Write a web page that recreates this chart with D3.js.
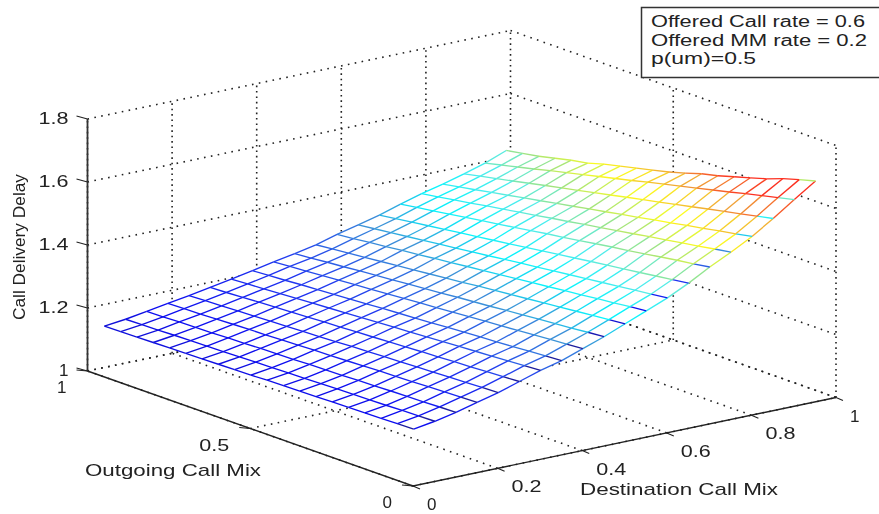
<!DOCTYPE html>
<html>
<head>
<meta charset="utf-8">
<script src="https://cdn.jsdelivr.net/npm/d3@7"></script>
<style>
  html, body { margin: 0; background: #fff; }
  svg { display: block; filter: blur(0.35px); }
  text { font-family: "Liberation Sans", Arial, sans-serif; fill: #222; }
</style>
</head>
<body>
<div id="chart"></div>
<script>
const destMix = [0.04, 0.09, 0.14, 0.19, 0.24, 0.29, 0.34, 0.39, 0.44, 0.49, 0.54, 0.59, 0.64, 0.69, 0.74, 0.79, 0.84, 0.89, 0.94, 0.99];
const outMix = [0.05, 0.1, 0.15, 0.2, 0.25, 0.3, 0.35, 0.4, 0.45, 0.5, 0.55, 0.6, 0.65, 0.7, 0.75, 0.8, 0.85, 0.9, 0.95, 1];

// delay[i][j] : destMix[i], outMix[j]
const delay = [
  [1.151,1.150,1.149,1.148,1.147,1.146,1.145,1.144,1.143,1.142,1.140,1.139,1.138,1.137,1.136,1.135,1.134,1.133,1.132,1.131],
  [1.162,1.161,1.160,1.158,1.157,1.156,1.155,1.154,1.152,1.151,1.150,1.149,1.147,1.146,1.145,1.144,1.143,1.141,1.140,1.139],
  [1.176,1.175,1.173,1.172,1.171,1.169,1.168,1.166,1.165,1.164,1.162,1.161,1.160,1.158,1.157,1.155,1.154,1.153,1.151,1.150],
  [1.194,1.192,1.191,1.189,1.187,1.185,1.184,1.182,1.180,1.178,1.177,1.175,1.173,1.171,1.170,1.168,1.166,1.164,1.163,1.161],
  [1.211,1.209,1.207,1.205,1.203,1.201,1.199,1.197,1.195,1.193,1.190,1.188,1.186,1.184,1.182,1.180,1.178,1.176,1.174,1.172],
  [1.232,1.229,1.227,1.224,1.222,1.219,1.217,1.214,1.212,1.209,1.207,1.204,1.202,1.199,1.197,1.194,1.192,1.189,1.186,1.184],
  [1.253,1.250,1.247,1.244,1.241,1.238,1.235,1.232,1.229,1.226,1.223,1.220,1.217,1.214,1.211,1.208,1.205,1.202,1.199,1.196],
  [1.270,1.267,1.264,1.260,1.257,1.254,1.251,1.248,1.244,1.241,1.238,1.235,1.231,1.228,1.225,1.222,1.219,1.215,1.212,1.209],
  [1.294,1.290,1.287,1.283,1.279,1.275,1.272,1.268,1.264,1.260,1.257,1.253,1.249,1.245,1.242,1.238,1.234,1.230,1.227,1.223],
  [1.318,1.314,1.309,1.305,1.301,1.296,1.292,1.287,1.283,1.279,1.274,1.270,1.266,1.261,1.257,1.253,1.248,1.244,1.239,1.235],
  [1.345,1.340,1.335,1.330,1.325,1.320,1.315,1.310,1.305,1.300,1.294,1.289,1.284,1.279,1.274,1.269,1.264,1.259,1.254,1.249],
  [1.372,1.367,1.361,1.356,1.350,1.345,1.339,1.334,1.328,1.323,1.317,1.312,1.306,1.301,1.295,1.290,1.284,1.279,1.273,1.268],
  [1.399,1.393,1.387,1.381,1.375,1.369,1.363,1.357,1.351,1.345,1.339,1.332,1.326,1.320,1.314,1.308,1.302,1.296,1.290,1.284],
  [1.432,1.425,1.418,1.411,1.404,1.398,1.391,1.384,1.377,1.370,1.363,1.356,1.349,1.342,1.336,1.329,1.322,1.315,1.308,1.301],
  [1.469,1.461,1.454,1.446,1.438,1.430,1.423,1.415,1.407,1.399,1.392,1.384,1.376,1.368,1.361,1.353,1.345,1.337,1.330,1.322],
  [1.502,1.494,1.485,1.477,1.468,1.460,1.451,1.443,1.434,1.426,1.417,1.409,1.400,1.392,1.383,1.375,1.366,1.358,1.349,1.341],
  [1.538,1.528,1.519,1.509,1.500,1.490,1.481,1.471,1.462,1.452,1.443,1.433,1.424,1.414,1.405,1.395,1.386,1.376,1.367,1.357],
  [1.581,1.570,1.559,1.549,1.538,1.527,1.516,1.505,1.495,1.484,1.473,1.462,1.451,1.441,1.430,1.419,1.408,1.397,1.387,1.376],
  [1.627,1.615,1.603,1.591,1.578,1.566,1.554,1.542,1.530,1.518,1.505,1.493,1.481,1.469,1.457,1.445,1.432,1.420,1.408,1.396],
  [1.672,1.658,1.643,1.624,1.609,1.594,1.579,1.567,1.551,1.536,1.524,1.512,1.500,1.488,1.473,1.464,1.452,1.440,1.431,1.422]
];

const zTicks = [1, 1.2, 1.4, 1.6, 1.8];
const destTicks = [0, 0.2, 0.4, 0.6, 0.8, 1];
const outTicks = [0, 0.5, 1];
const noteLines = ['Offered Call rate = 0.6', 'Offered MM rate = 0.2', 'p(um)=0.5'];

const width = 879;
const height = 514;

const svg = d3.select('#chart').append('svg')
  .attr('width', width)
  .attr('height', height);

// 3d box, flattened: each axis shifts the point from the front corner
const dX = d3.scaleLinear().domain([0, 1]).range([0, 423]);
const dY = d3.scaleLinear().domain([0, 1]).range([0, -88.5]);
const oX = d3.scaleLinear().domain([0, 1]).range([0, -325.5]);
const oY = d3.scaleLinear().domain([0, 1]).range([0, -115]);
const zY = d3.scaleLinear().domain([1, 1.8]).range([0, -252]);
const front = [413, 486];

function project(d, o, z) {
  return [front[0] + dX(d) + oX(o), front[1] + dY(d) + oY(o) + zY(z)];
}

const line = d3.line();

const color = d3.scaleLinear()
  .domain([1.08, 1.15, 1.22, 1.29, 1.34, 1.39, 1.44, 1.49, 1.55, 1.6])
  .range(['#1c1c9c', '#0c0cf0', '#2038f0', '#3c94d8', '#08f4fc', '#50ecec', '#a0e480', '#fcfc20', '#f0a038', '#fc3020'])
  .clamp(true);

// dotted walls and floor
const gridGroup = svg.append('g')
  .attr('fill', 'none')
  .attr('stroke', '#222')
  .attr('stroke-width', 1.6);

function gridLine(a, b) {
  gridGroup.append('path')
    .attr('d', line([a, b]))
    .attr('stroke-dasharray', a[0] === b[0] ? '1.6 3.8' : '1.6 5.4');
}

destTicks.forEach(d => {
  gridLine(project(d, 0, 1), project(d, 1, 1));
  gridLine(project(d, 1, 1), project(d, 1, 1.8));
});
outTicks.forEach(o => {
  gridLine(project(0, o, 1), project(1, o, 1));
  if (o < 1) gridLine(project(1, o, 1), project(1, o, 1.8));
});
zTicks.forEach(z => {
  gridLine(project(0, 1, z), project(1, 1, z));
  gridLine(project(1, 1, z), project(1, 0, z));
});

// the mesh: white faces hide what is behind them
const faces = svg.append('g').attr('fill', '#fff').attr('stroke', 'none');
const mesh = svg.append('g').attr('fill', 'none').attr('stroke-width', 1.35);

destMix.forEach((d, i) => {
  outMix.forEach((o, j) => {
    const p = project(d, o, delay[i][j]);
    if (i < destMix.length - 1 && j < outMix.length - 1) {
      faces.append('path').attr('d', line([
        p,
        project(destMix[i + 1], o, delay[i + 1][j]),
        project(destMix[i + 1], outMix[j + 1], delay[i + 1][j + 1]),
        project(d, outMix[j + 1], delay[i][j + 1])
      ]) + 'Z');
    }
    if (i < destMix.length - 1) {
      mesh.append('path')
        .attr('d', line([p, project(destMix[i + 1], o, delay[i + 1][j])]))
        .attr('stroke', color(delay[i][j]));
    }
    if (j < outMix.length - 1) {
      // first cell along the outgoing lines comes out in a colder colour in the original
      const shift = j === 0 ? 0.22 : 0;
      mesh.append('path')
        .attr('d', line([p, project(d, outMix[j + 1], delay[i][j + 1])]))
        .attr('stroke', color(delay[i][j] - shift));
    }
  });
});

// axes
const axes = svg.append('g').attr('fill', 'none').attr('stroke', '#222');

axes.append('path')
  .attr('d', line([project(0, 1, 1), project(0, 1, 1.8)]))
  .attr('stroke-width', 1.8)
  .attr('stroke', '#333');
axes.append('path')
  .attr('d', line([project(0, 1, 1), project(0, 0, 1), project(1, 0, 1)]))
  .attr('stroke-width', 1.4);

zTicks.forEach(z => {
  const p = project(0, 1, z);
  axes.append('path').attr('d', line([p, [p[0] - 11, p[1] - 3]])).attr('stroke-width', 1.1);
});
outTicks.forEach(o => {
  const p = project(0, o, 1);
  axes.append('path').attr('d', line([p, [p[0] - 11, p[1] - 1]])).attr('stroke-width', 1.1);
});
destTicks.forEach(d => {
  const p = project(d, 0, 1);
  axes.append('path').attr('d', line([p, [p[0] + 7, p[1] + 3]])).attr('stroke-width', 1.1);
});

function label(txt, x, y, anchor, len, size = 17) {
  const t = svg.append('text')
    .attr('x', x)
    .attr('y', y)
    .attr('text-anchor', anchor)
    .attr('font-size', size)
    .text(txt);
  if (len) t.attr('textLength', len).attr('lengthAdjust', 'spacingAndGlyphs');
  return t;
}

function tickLen(v) {
  return String(v).length > 1 ? 30 : null;
}

zTicks.forEach(z => {
  const p = project(0, 1, z);
  label(String(z), p[0] - 19, p[1] + 5, 'end', tickLen(z));
});
outTicks.forEach(o => {
  const p = project(0, o, 1);
  label(String(o), p[0] - 21, p[1] + 22, 'end', tickLen(o));
});
destTicks.forEach(d => {
  const p = project(d, 0, 1);
  label(String(d), p[0] + 14, p[1] + 24, 'start', tickLen(d));
});

label('Outgoing Call Mix', 85, 476, 'start', 176, 17);
label('Destination Call Mix', 580, 495, 'start', 198, 17);
label('Call Delivery Delay', 0, 0, 'middle', 146, 16)
  .attr('transform', 'translate(25, 247) rotate(-90)');

// note box
svg.append('rect')
  .attr('x', 641.5)
  .attr('y', 7.5)
  .attr('width', 240)
  .attr('height', 70)
  .attr('fill', '#fff')
  .attr('stroke', '#333')
  .attr('stroke-width', 1.5);

const noteLen = [214, 216, 105];
noteLines.forEach((txt, i) => {
  label(txt, 651, 27 + i * 18.5, 'start', noteLen[i], 16);
});
</script>
</body>
</html>
